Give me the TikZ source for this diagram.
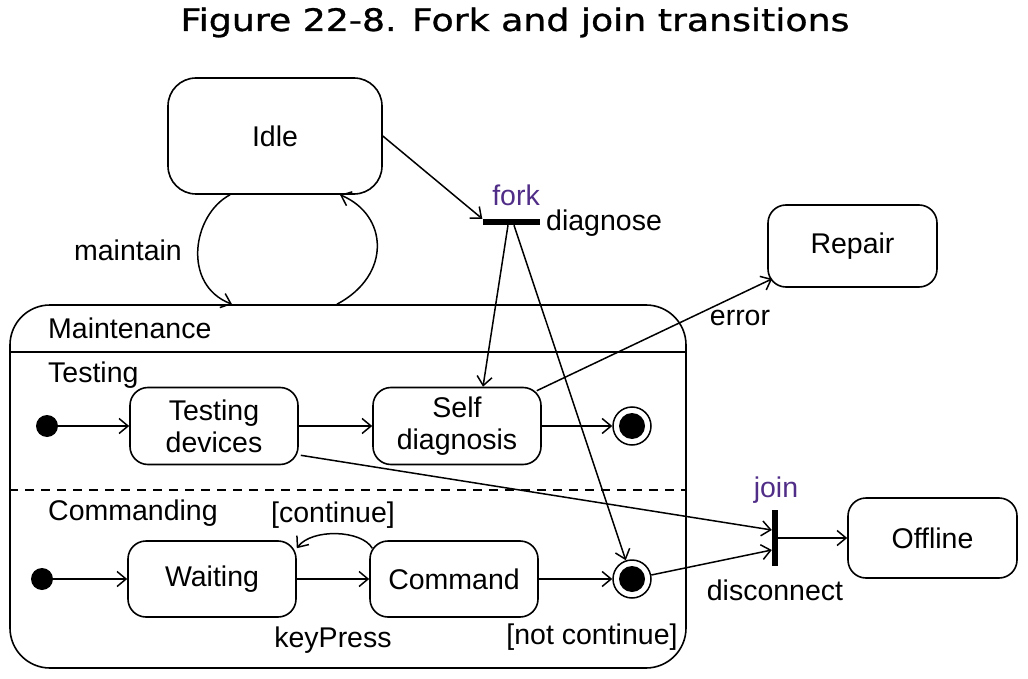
\documentclass[tikz,border=0pt]{standalone}
\usepackage{fontspec}
\setmainfont{Liberation Sans}
\newfontfamily\titlefont[FakeBold=0.9]{DejaVu Sans}
\usetikzlibrary{arrows.meta,calc}
\definecolor{purp}{RGB}{80,45,135}
\begin{document}
\begin{tikzpicture}[x=1pt,y=-1pt,
  every node/.style={font=\fontsize{28.5}{32}\selectfont},
  state/.style={draw, line width=1.6pt, rounded corners=18pt, minimum width=168pt, minimum height=77pt, inner sep=0pt, align=center},
  arr/.style={line width=1.5pt, -{Straight Barb[length=9pt,width=15pt,line width=1.5pt]}},
  bar/.style={fill=black, inner sep=0pt},
  lbl/.style={inner sep=0pt},
  initst/.style={circle, fill=black, minimum size=22pt, inner sep=0pt},
  finst/.style={circle, draw, line width=1.5pt, minimum size=38pt, inner sep=0pt,
    path picture={\fill[black] (path picture bounding box.center) circle (13pt);}},
]
\useasboundingbox (0,0) rectangle (1028,679);
\node[font=\titlefont\fontsize{31}{36}\selectfont, anchor=base, inner sep=0pt] (title) at (515,31) {\scalebox{1.17}[1]{Figure 22-8. Fork and join transitions}};

% outer composite state
\node[draw, line width=1.6pt, rounded corners=40pt, minimum width=676pt, minimum height=363pt, inner sep=0pt] (maint) at (348,486.5) {};
\draw[line width=1.6pt] (maint.west |- 0,352) -- (maint.east |- 0,352);
\draw[line width=1.6pt, dash pattern=on 9pt off 7pt] (maint.west |- 0,490) -- (maint.east |- 0,490);
\node[lbl, anchor=west] (lmaint) at (48,328) {Maintenance};
\node[lbl, anchor=west] (ltest) at (48,375) {Testing};
\node[lbl, anchor=west] (lcomm) at (48,513) {Commanding};

% states
\node[state, minimum width=214pt, minimum height=116pt, rounded corners=28pt] (idle) at (275,136) {Idle};
\node[state, minimum width=169pt, minimum height=82pt] (repair) at (852.5,246) {Repair};
\node[state, minimum width=169pt, minimum height=80pt] (offline) at (932.5,538) {Offline};
\node[state] (testdev) at (214,426) {Testing\\devices};
\node[state] (selfdiag) at (457,426) {Self\\diagnosis};
\node[state, minimum height=76pt] (waiting) at (212,579) {Waiting};
\node[state, minimum height=76pt] (command) at (454,579) {Command};

\node[initst] (init1) at (47,426) {};
\node[initst] (init2) at (42,579) {};
\node[finst] (tfin) at (632,426) {};
\node[finst] (cfin) at (632,579) {};

\node[bar, minimum width=57pt, minimum height=6pt] (fork) at (511,222) {};
\node[bar, minimum width=6pt, minimum height=56pt] (join) at (775,538) {};

% labels
\node[lbl, text=purp] (lfork) at (516,195) {fork};
\node[lbl, anchor=west] (ldiag) at (546,223) {diagnose};
\node[lbl, text=purp] (ljoin) at (776,490) {join};
\node[lbl] (ldisc) at (775,590) {disconnect};
\node[lbl] (lmaintain) at (128,250) {maintain};
\node[lbl] (lerror) at (740,318) {error};
\node[lbl] (lcont) at (333,515) {[continue]};
\node[lbl] (lkey) at (333,640) {keyPress};
\node[lbl] (lnot) at (592,637) {[not continue]};

% transitions
\draw[arr] ($(idle.south)+(-45,0)$) .. controls (192,215) and (182,285) .. ($(maint.north)+(-116,0)$);
\draw[arr] ($(maint.north)+(-11,0)$) .. controls (392,275) and (388,215) .. ($(idle.south)+(65,0)$);
\draw[arr] (idle.east) -- (fork.north west);
\draw[arr] ($(fork.south)+(-3,0)$) -- ($(selfdiag.north)+(26,0)$);
\draw[arr] ($(fork.south)+(3,0)$) -- (cfin);
\draw[arr] ($(selfdiag.north east)+(-5,4)$) -- ($(repair.south west)+(5,-9)$);
\draw[arr] (init1) -- (testdev.west);
\draw[arr] (testdev.east) -- (selfdiag.west);
\draw[arr] (selfdiag.east) -- (tfin);
\draw[arr] (init2) -- (waiting.west);
\draw[arr] (waiting.east) -- (command.west);
\draw[arr] (command.east) -- (cfin);
\draw[arr] ($(command.north west)+(3,8)$) .. controls (362,530) and (312,528) .. ($(waiting.north east)+(0,8)$);
\draw[arr] ($(testdev.south east)+(2,-10)$) -- ($(join.west)+(0,-8)$);
\draw[arr] (cfin) -- ($(join.west)+(0,12)$);
\draw[arr] (join.east) -- (offline.west);
\end{tikzpicture}
\end{document}
